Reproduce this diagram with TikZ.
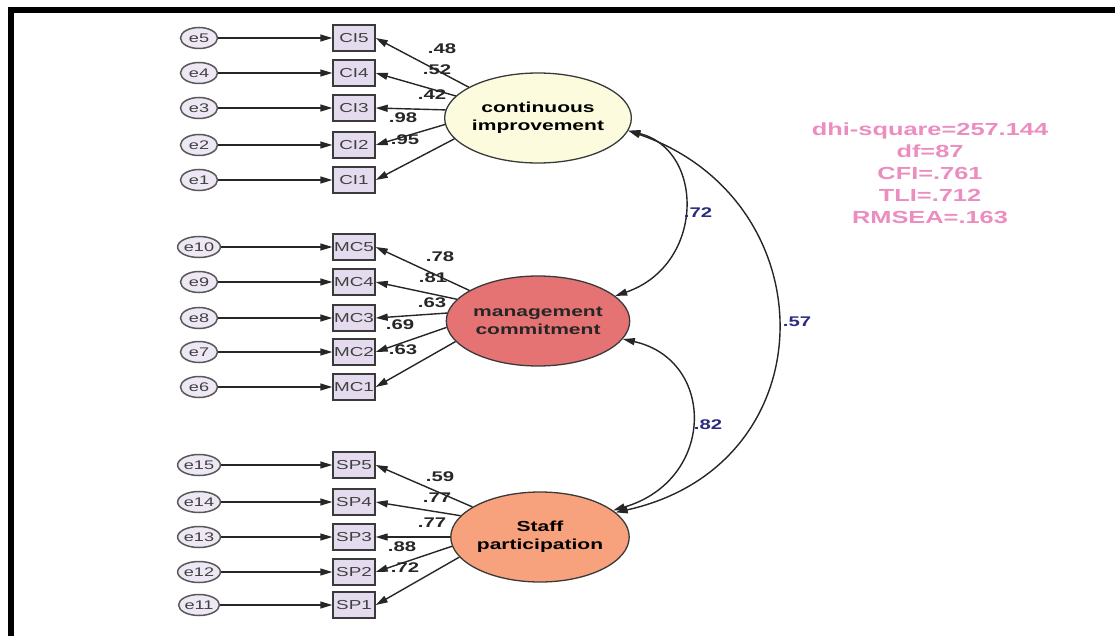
\documentclass[tikz,border=0pt]{standalone}
\usepackage{fontspec}
\setmainfont{Liberation Sans}[FakeStretch=1.45]
\usetikzlibrary{shapes.geometric,arrows.meta}
\definecolor{errfill}{HTML}{EEE8F5}
\definecolor{boxfill}{HTML}{E4DCEE}
\definecolor{cifill}{HTML}{FDFBDD}
\definecolor{mcfill}{HTML}{E57373}
\definecolor{spfill}{HTML}{F7A27C}
\definecolor{covblue}{HTML}{2B2B7F}
\definecolor{fitpink}{HTML}{EC8DBF}
\definecolor{edgegray}{HTML}{3A3A3A}
\begin{document}
\begin{tikzpicture}[x=1pt,y=-1pt,
  err/.style={ellipse,draw=edgegray!85,line width=1.5pt,fill=errfill,minimum width=37pt,minimum height=21pt,inner sep=0pt,font=\fontsize{12.5}{12.5}\selectfont,text=black!75},
  obs/.style={rectangle,draw=edgegray,line width=1.4pt,fill=boxfill,minimum width=42pt,minimum height=26pt,inner sep=0pt,font=\fontsize{13}{13}\selectfont,text=black!75},
  lat/.style={ellipse,draw=edgegray,line width=1.3pt,minimum width=157pt,minimum height=90pt,inner sep=0pt,align=center,font=\bfseries\fontsize{14.5}{18}\selectfont},
  link/.style={draw=black!85,line width=1.4pt,-{Triangle[length=12pt,width=7pt]}},
  cov/.style={draw=black!85,line width=1.4pt,{Triangle[length=12pt,width=7pt]}-{Triangle[length=12pt,width=7pt]}},
  load/.style={font=\bfseries\fontsize{14}{14}\selectfont,text=black!85,inner sep=0pt},
  covlab/.style={font=\bfseries\fontsize{14}{14}\selectfont,text=covblue,inner sep=0pt},
]
\useasboundingbox (0,0) rectangle (1115,636);
\fill[white] (0,0) rectangle (1115,636);
% frame on top and left
\draw[line width=6pt] (10.5,636) -- (10.5,10.5) -- (1115,10.5);

% latent variables
\node[lat,fill=cifill] (ci) at (538,118) {continuous\\improvement};
\node[lat,fill=mcfill,text=black!85] (mc) at (538,321) {management\\commitment};
\node[lat,fill=spfill] (sp) at (540,537) {Staff\\participation};

% indicators with their error terms
\foreach \i/\y/\ang in {5/38/156,4/73/165,3/108/175,2/145/184,1/180/194}{
  \node[err] (e\i) at (199,\y) {e\i};
  \node[obs] (ci\i) at (354,\y) {CI\i};
  \draw[link] (e\i) -- (ci\i);
  \draw[link] (ci.\ang) -- (ci\i.east);
}
\foreach \i/\e/\y/\ang in {5/10/247/156,4/9/282/165,3/8/318/175,2/7/352/184,1/6/387/194}{
  \node[err] (e\e) at (199,\y) {e\e};
  \node[obs] (mc\i) at (354,\y) {MC\i};
  \draw[link] (e\e) -- (mc\i);
  \draw[link] (mc.\ang) -- (mc\i.east);
}
\foreach \i/\e/\y/\ang in {5/15/465/156,4/14/502/165,3/13/537/180,2/12/572/186,1/11/605/194}{
  \node[err] (e\e) at (199,\y) {e\e};
  \node[obs] (sp\i) at (354,\y) {SP\i};
  \draw[link] (e\e) -- (sp\i);
  \draw[link] (sp.\ang) -- (sp\i.east);
}

% factor loadings
\node[load] (l1) at (442,49) {.48};
\node[load] (l2) at (437,70) {.52};
\node[load] (l3) at (432,95) {.42};
\node[load] (l4) at (403,118) {.98};
\node[load] (l5) at (405,140) {.95};
\node[load] (l6) at (440,257) {.78};
\node[load] (l7) at (433,278) {.81};
\node[load] (l8) at (432,303) {.63};
\node[load] (l9) at (400,325) {.69};
\node[load] (l10) at (403,350) {.63};
\node[load] (l11) at (440,477) {.59};
\node[load] (l12) at (437,498) {.77};
\node[load] (l13) at (432,523) {.77};
\node[load] (l14) at (402,547) {.88};
\node[load] (l15) at (405,568) {.72};

% correlations between factors
\draw[cov] (ci.-8) .. controls (705,150) and (705,265) .. (mc.18);
\draw[cov] (ci.-8) .. controls (829,200) and (829,465) .. (sp.18);
\draw[cov] (mc.-12) .. controls (716,360) and (716,480) .. (sp.20);
\node[covlab] (c1) at (698,213) {.72};
\node[covlab] (c2) at (797,322) {.57};
\node[covlab] (c3) at (708,425) {.82};

% fit indices
\node[align=center,text=fitpink,font=\bfseries\fontsize{17.5}{22}\selectfont] (fit) at (930,173)
  {dhi-square=257.144\\df=87\\CFI=.761\\TLI=.712\\RMSEA=.163};
\end{tikzpicture}
\end{document}
